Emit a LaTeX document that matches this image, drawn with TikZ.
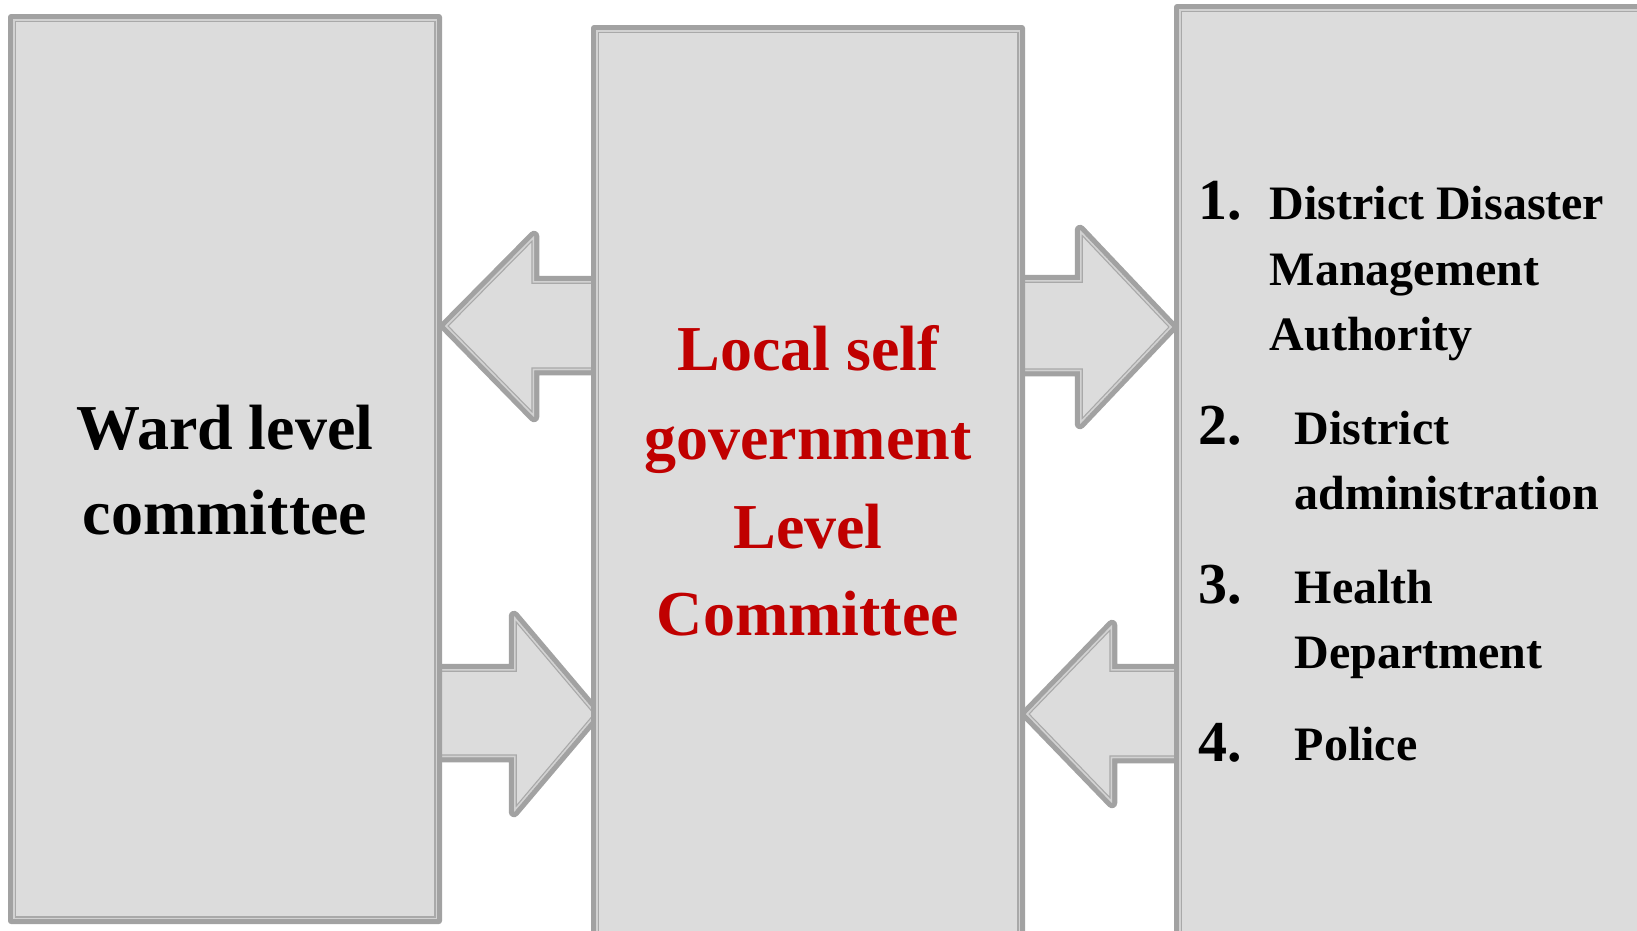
\documentclass[tikz,border=0pt]{standalone}
\usepackage{fontspec}
\setmainfont{Liberation Serif}
\definecolor{boxfill}{HTML}{DCDCDC}
\definecolor{bordergray}{HTML}{A2A2A2}
\definecolor{gaplight}{HTML}{D2D2D2}
\definecolor{innergray}{HTML}{A9A9A9}
\definecolor{txtred}{HTML}{C00000}
\newcommand\mybox[4]{%
  \fill[bordergray, rounded corners=3] (#1,#2) rectangle (#3,#4);
  \fill[gaplight] (#1+5,#2+5) rectangle (#3-5,#4-5);
  \fill[innergray] (#1+6.5,#2+6.5) rectangle (#3-6.5,#4-6.5);
  \fill[boxfill] (#1+8,#2+8) rectangle (#3-8,#4-8);
}
\newcommand\blockarrow[1]{%
  \draw[bordergray, line width=10.5, line join=round] #1 -- cycle;
  \begin{scope}
    \clip #1 -- cycle;
    \fill[boxfill] #1 -- cycle;
    \draw[innergray, line width=5.5] #1 -- cycle;
    \draw[gaplight, line width=3] #1 -- cycle;
  \end{scope}
}
\tikzset{
  bigtxt/.style={font=\bfseries\fontsize{64}{86}\selectfont, anchor=base, inner sep=0},
  redtxt/.style={bigtxt, text=txtred},
  numtxt/.style={font=\bfseries\fontsize{58}{70}\selectfont, anchor=base west, inner sep=0},
  itemtxt/.style={font=\bfseries\fontsize{48}{65}\selectfont, anchor=base west, inner sep=0},
}
\begin{document}
\begin{tikzpicture}[x=1pt,y=-1pt]
\useasboundingbox (0,0) rectangle (1637,930);
\clip (0,0) rectangle (1637,930);
% arrows
\blockarrow{(445,326) -- (534,236) -- (534,281) -- (610,281) -- (610,370) -- (534,370) -- (534,417)}
\blockarrow{(425,669) -- (514,669) -- (514,616) -- (597,714) -- (514,812) -- (514,757) -- (425,757)}
\blockarrow{(1010,280) -- (1080,280) -- (1080,230) -- (1172,327) -- (1080,424) -- (1080,371) -- (1010,371)}
\blockarrow{(1026,714) -- (1112,625) -- (1112,669) -- (1190,669) -- (1190,758) -- (1112,758) -- (1112,803)}
% boxes
\mybox{8}{14}{442}{924}
\mybox{591}{25}{1025}{940}
\mybox{1174}{4}{1645}{940}
% texts
\node[bigtxt] (w1) at (225,449) {Ward level};
\node[bigtxt] (w2) at (225,534.5) {committee};
\node[redtxt] (l1) at (808,370.5) {Local self};
\node[redtxt] (l2) at (808,459) {government};
\node[redtxt] (l3) at (808,548) {Level};
\node[redtxt] (l4) at (808,635) {Committee};
\node[numtxt] (n1) at (1198.5,219) {1.};
\node[numtxt] (n2) at (1198.5,444) {2.};
\node[numtxt] (n3) at (1198.5,603) {3.};
\node[numtxt] (n4) at (1198.5,761) {4.};
\node[itemtxt] (i1a) at (1269.5,219) {District Disaster};
\node[itemtxt] (i1b) at (1269.5,285) {Management};
\node[itemtxt] (i1c) at (1269.5,350) {Authority};
\node[itemtxt] (i2a) at (1294.5,444) {District};
\node[itemtxt] (i2b) at (1294.5,509.5) {administration};
\node[itemtxt] (i3a) at (1294.5,603) {Health};
\node[itemtxt] (i3b) at (1294.5,668) {Department};
\node[itemtxt] (i4a) at (1294.5,760) {Police};
\end{tikzpicture}
\end{document}
